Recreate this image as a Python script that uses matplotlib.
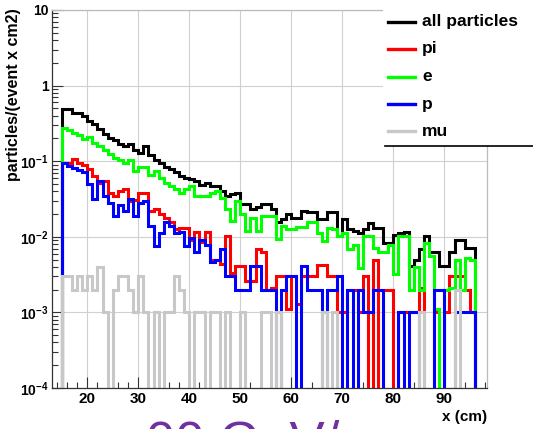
import numpy as np
import matplotlib
matplotlib.use("Agg")
import matplotlib.pyplot as plt
from matplotlib.lines import Line2D
from matplotlib.patches import Rectangle
from matplotlib.ticker import FixedLocator, MultipleLocator, NullFormatter

plt.rcParams['font.family'] = ['Liberation Sans', 'DejaVu Sans']
plt.rcParams['font.weight'] = 'bold'
plt.rcParams['mathtext.fontset'] = 'custom'
plt.rcParams['mathtext.rm'] = 'Liberation Sans:bold'
plt.rcParams['mathtext.bf'] = 'Liberation Sans:bold'
plt.rcParams['mathtext.default'] = 'rm'

# 1 cm bins from 15 to 96 cm
bin_edges = np.arange(15, 97, 1)

# particles/(event x cm2) per bin
all_particles = [
    0.49, 0.49, 0.44, 0.44, 0.40, 0.34, 0.31, 0.27, 0.23, 0.20,
    0.19, 0.17, 0.16, 0.17, 0.14, 0.13, 0.16, 0.12, 0.105, 0.095,
    0.085, 0.078, 0.071, 0.063, 0.060, 0.058, 0.055, 0.049, 0.051, 0.047,
    0.047, 0.040, 0.035, 0.037, 0.038, 0.027, 0.027, 0.023, 0.025, 0.027,
    0.027, 0.023, 0.0155, 0.017, 0.020, 0.018, 0.018, 0.022, 0.021, 0.021,
    0.017, 0.017, 0.021, 0.021, 0.0102, 0.017, 0.0126, 0.012, 0.0112, 0.0126,
    0.015, 0.0132, 0.0132, 0.0083, 0.0083, 0.0107, 0.0112, 0.0115, 0.0041, 0.0050,
    0.0068, 0.0102, 0.0062, 0.0062, 0.0041, 0.0041, 0.0062, 0.0091, 0.0091, 0.0071,
    0.0071,
]
pi = [
    0.095, 0.095, 0.107, 0.095, 0.089, 0.078, 0.063, 0.051, 0.055, 0.038,
    0.035, 0.040, 0.043, 0.030, 0.031, 0.038, 0.038, 0.022, 0.023, 0.020,
    0.018, 0.0155, 0.0126, 0.0132, 0.0132, 0.0091, 0.0117, 0.0085, 0.0117, 0.0050,
    0.0050, 0.0044, 0.0102, 0.0033, 0.0041, 0.0041, 0.0026, 0.0026, 0.0068, 0.0062,
    0.0020, 0.0021, 0.0030, 0.0030, 0.0011, 0.0030, 0.0013, 0.0030, 0.0030, 0.0030,
    0.0043, 0.0043, 0.0030, 0.0030, 0.0010, 0.0010, 0.0020, 0.0020, 0.0010, 0.0030,
    0, 0.0050, 0, 0.0020, 0.0020, 0, 0.0010, 0.0010, 0.0010, 0.0010,
    0.0021, 0, 0, 0.0010, 0, 0.0010, 0.0030, 0.0030, 0.0030, 0.0020,
    0.0010,
]
e = [
    0.275, 0.26, 0.235, 0.22, 0.195, 0.21, 0.175, 0.16, 0.14, 0.123,
    0.11, 0.105, 0.095, 0.105, 0.074, 0.083, 0.085, 0.066, 0.074, 0.060,
    0.051, 0.047, 0.043, 0.038, 0.043, 0.047, 0.035, 0.035, 0.035, 0.038,
    0.040, 0.033, 0.023, 0.016, 0.030, 0.020, 0.012, 0.018, 0.012, 0.019,
    0.019, 0.019, 0.0093, 0.014, 0.0126, 0.0126, 0.0135, 0.0135, 0.0155, 0.0155,
    0.0112, 0.0089, 0.0132, 0.0126, 0.0102, 0.0112, 0.0068, 0.0079, 0.0039, 0.0102,
    0.0102, 0.0071, 0.0062, 0.0062, 0.0079, 0.0032, 0.0102, 0.0102, 0.0020, 0.0040,
    0.0020, 0.0083, 0.0055, 0.0011, 0, 0.0020, 0.0021, 0.0050, 0.0020, 0.0052,
    0.0050,
]
p = [
    0.095, 0.087, 0.081, 0.076, 0.071, 0.050, 0.032, 0.055, 0.035, 0.028,
    0.019, 0.026, 0.022, 0.032, 0.019, 0.028, 0.030, 0.014, 0.0076, 0.0112,
    0.0155, 0.0138, 0.0112, 0.0117, 0.0076, 0.0095, 0.0062, 0.0091, 0.0079, 0.0046,
    0.0050, 0.0068, 0.0030, 0.0030, 0.0020, 0.0020, 0.0020, 0.0041, 0.0041, 0.0020,
    0.0020, 0.0020, 0, 0.0020, 0.0030, 0.0030, 0, 0.0041, 0.0020, 0.0020,
    0.0020, 0, 0.0020, 0.0020, 0.0030, 0, 0.0020, 0, 0.0020, 0.0010,
    0.0010, 0.0020, 0.0020, 0, 0, 0, 0.0010, 0, 0.0010, 0.0010,
    0, 0, 0, 0.0020, 0.0020, 0, 0, 0.0010, 0.0010, 0.0010,
    0.0010,
]
mu = [
    0.003, 0.003, 0.002, 0.003, 0.002, 0.003, 0.002, 0.004, 0.001, 0,
    0.002, 0.003, 0.003, 0.002, 0.001, 0.003, 0.001, 0, 0.001, 0,
    0.001, 0.001, 0.003, 0.002, 0.001, 0, 0.001, 0.001, 0, 0.001,
    0.001, 0, 0.001, 0, 0, 0.001, 0, 0, 0, 0.001,
    0.001, 0, 0.001, 0, 0, 0, 0, 0, 0, 0,
    0, 0.001, 0, 0.001, 0, 0, 0, 0, 0, 0,
    0, 0, 0, 0, 0, 0, 0, 0, 0, 0,
    0.001, 0, 0, 0, 0, 0, 0, 0.002, 0, 0,
    0,
]

series = [
    ("all particles", all_particles, "#000000"),
    ("pi", pi, "#ff0000"),
    ("e", e, "#00ff00"),
    ("p", p, "#0000ff"),
    ("mu", mu, "#c8c8c8"),
]

fig = plt.figure(figsize=(5.33, 4.29), dpi=100)
ax = fig.add_axes([52 / 533, 41 / 429, 434.7 / 533, 378 / 429])

floor = 1e-9  # empty bins drop below the axis
for name, vals, col in series:
    v = np.array(vals, dtype=float)
    v[v <= 0] = floor
    ax.stairs(v, bin_edges, baseline=floor, color=col, lw=2.2)

ax.set_yscale('log')
ax.set_xlim(13.1, 98.3)
ax.set_ylim(1e-4, 10)

# axis ticks
ax.xaxis.set_minor_locator(MultipleLocator(2))
ax.set_xticks(range(20, 100, 10))
ax.set_xticklabels([str(t) for t in range(20, 100, 10)])
decades = [1e-4, 1e-3, 1e-2, 1e-1, 1, 10]
ax.yaxis.set_major_locator(FixedLocator(decades))
ax.set_yticklabels([r'$10^{-4}$', r'$10^{-3}$', r'$10^{-2}$', r'$10^{-1}$', '1', '10'])
minor = [m * 10.0 ** k for k in range(-4, 1) for m in range(2, 10)]
ax.yaxis.set_minor_locator(FixedLocator(minor))
ax.yaxis.set_minor_formatter(NullFormatter())

ax.tick_params(axis='x', which='major', direction='in', length=8, width=0.8,
               labelsize=11, pad=3, color='#333333')
ax.tick_params(axis='y', which='major', direction='in', length=8, width=0.8,
               labelsize=10, pad=2.5, color='#333333')
ax.tick_params(axis='both', which='minor', direction='in', length=4, width=0.8,
               color='#333333')
for lab in ax.get_xticklabels() + ax.get_yticklabels():
    lab.set_fontweight('bold')

ax.grid(True, which='major', color='#d0d0d0', lw=0.8)
ax.set_axisbelow(True)
for side in ['left', 'bottom']:
    ax.spines[side].set_color('#333333')
    ax.spines[side].set_linewidth(0.9)
for side in ['top', 'right']:
    ax.spines[side].set_color('#bbbbbb')
    ax.spines[side].set_linewidth(0.9)

# titles
fig.text(14 / 533, 1 - 8 / 429, 'particles/(event x cm2)', rotation=90,
         ha='center', va='top', fontsize=11.5, fontweight='bold')
fig.text(487 / 533, 1 - 417 / 429, 'x (cm)', ha='right', va='center',
         fontsize=11, fontweight='bold')

# legend box in the top right corner
fig.add_artist(Rectangle((383 / 533, 1 - 146 / 429), 150 / 533, 146 / 429,
                         transform=fig.transFigure, facecolor='white',
                         edgecolor='none', zorder=3))
fig.add_artist(Line2D([385 / 533, 1.0], [1 - 146 / 429] * 2,
                      transform=fig.transFigure, color='black', lw=1.2, zorder=4))
row_y = [21.5, 49, 76.5, 104, 131]
for (name, vals, col), yy in zip(series, row_y):
    yf = 1 - yy / 429
    fig.add_artist(Line2D([388 / 533, 415 / 533], [yf, yf], transform=fig.transFigure,
                          color=col, lw=2.4, zorder=4))
    fig.text(422 / 533, yf, name, ha='left', va='center', fontsize=12.5,
             fontweight='bold', zorder=5)

# slide caption running off the bottom edge
fig.text(146 / 533, -0.068, '00 GeV/', color='#7030a0', fontsize=38,
         fontweight='normal', ha='left', va='baseline')

fig.savefig('out.png', dpi=100)
